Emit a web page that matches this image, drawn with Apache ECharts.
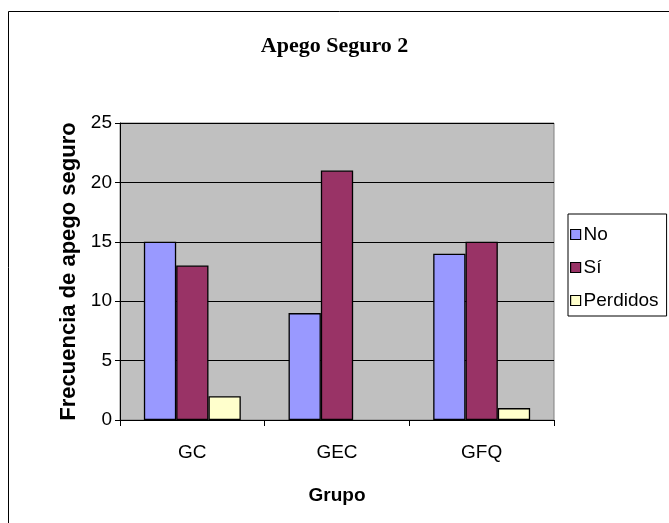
<!DOCTYPE html>
<html><head><meta charset="utf-8">
<script src="https://cdn.jsdelivr.net/npm/echarts@6/dist/echarts.min.js"></script>
<style>html,body{margin:0;padding:0;background:#fff}#c{width:669px;height:523px}</style>
</head><body><div id="c"></div>
<script>
const categories = ['GC', 'GEC', 'GFQ'];
const seriesNames = ['No', 'Sí', 'Perdidos'];
const noValues = [15, 9, 14];
const siValues = [13, 21, 15];
const perdidosValues = [2, 0, 1];
const yTicks = [0, 5, 10, 15, 20, 25];
const colors = ['#9999FF', '#993366', '#FFFFCC'];

const chart = echarts.init(document.getElementById('c'), null, {renderer: 'canvas'});
const sans = 'Liberation Sans, Arial, sans-serif';
const values = [noValues, siValues, perdidosValues];
chart.setOption({
  animation: false,
  backgroundColor: '#fff',
  title: {
    text: 'Apego Seguro 2', left: 'center', top: 30,
    textStyle: {fontFamily: 'Liberation Serif, Times New Roman, serif', fontWeight: 'bold', fontSize: 22, color: '#000'}
  },
  graphic: [{
    type: 'rect', shape: {x: 8.5, y: 11.5, width: 700, height: 600},
    style: {fill: 'none', stroke: '#000', lineWidth: 1}, silent: true, z: 0
  }],
  legend: {
    orient: 'vertical', left: 568, top: 214,
    data: seriesNames,
    itemWidth: 10, itemHeight: 10, itemGap: 14,
    padding: [11, 8, 6, 2],
    borderColor: '#000', borderWidth: 1, backgroundColor: '#fff',
    icon: 'rect',
    textStyle: {fontFamily: sans, fontSize: 19, color: '#000', padding: [0, 0, 0, -2]},
    itemStyle: {borderColor: '#000', borderWidth: 1.2}
  },
  grid: {left: 120, top: 123, right: 115, bottom: 103, show: true, backgroundColor: '#C0C0C0', borderColor: '#808080', borderWidth: 1},
  xAxis: {
    type: 'category', data: categories,
    name: 'Grupo', nameLocation: 'middle', nameGap: 66,
    nameTextStyle: {fontFamily: sans, fontWeight: 'bold', fontSize: 19, color: '#000'},
    axisLine: {lineStyle: {color: '#000', width: 1}},
    axisTick: {show: true, length: 6, lineStyle: {color: '#000'}},
    axisLabel: {fontFamily: sans, fontSize: 19, color: '#000', margin: 23}
  },
  yAxis: {
    type: 'value', min: yTicks[0], max: yTicks[yTicks.length - 1], interval: 5,
    name: 'Frecuencia de apego seguro', nameLocation: 'middle', nameGap: 40,
    nameTextStyle: {fontFamily: sans, fontWeight: 'bold', fontSize: 22, color: '#000'},
    axisLine: {show: true, lineStyle: {color: '#000', width: 1}},
    axisTick: {show: true, inside: false, length: 5, lineStyle: {color: '#000'}},
    axisLabel: {fontFamily: sans, fontSize: 19, color: '#000', margin: 8},
    splitLine: {show: true, lineStyle: {color: '#000', width: 1}}
  },
  series: seriesNames.map((n, i) => ({
    name: n, type: 'bar',
    data: values[i].map(v => v === 0 ? {value: v, itemStyle: {borderWidth: 0, opacity: 0}} : v),
    barGap: '0%', barCategoryGap: '33%',
    itemStyle: {color: colors[i], borderColor: '#000', borderWidth: 1.3}
  }))
});
</script></body></html>
